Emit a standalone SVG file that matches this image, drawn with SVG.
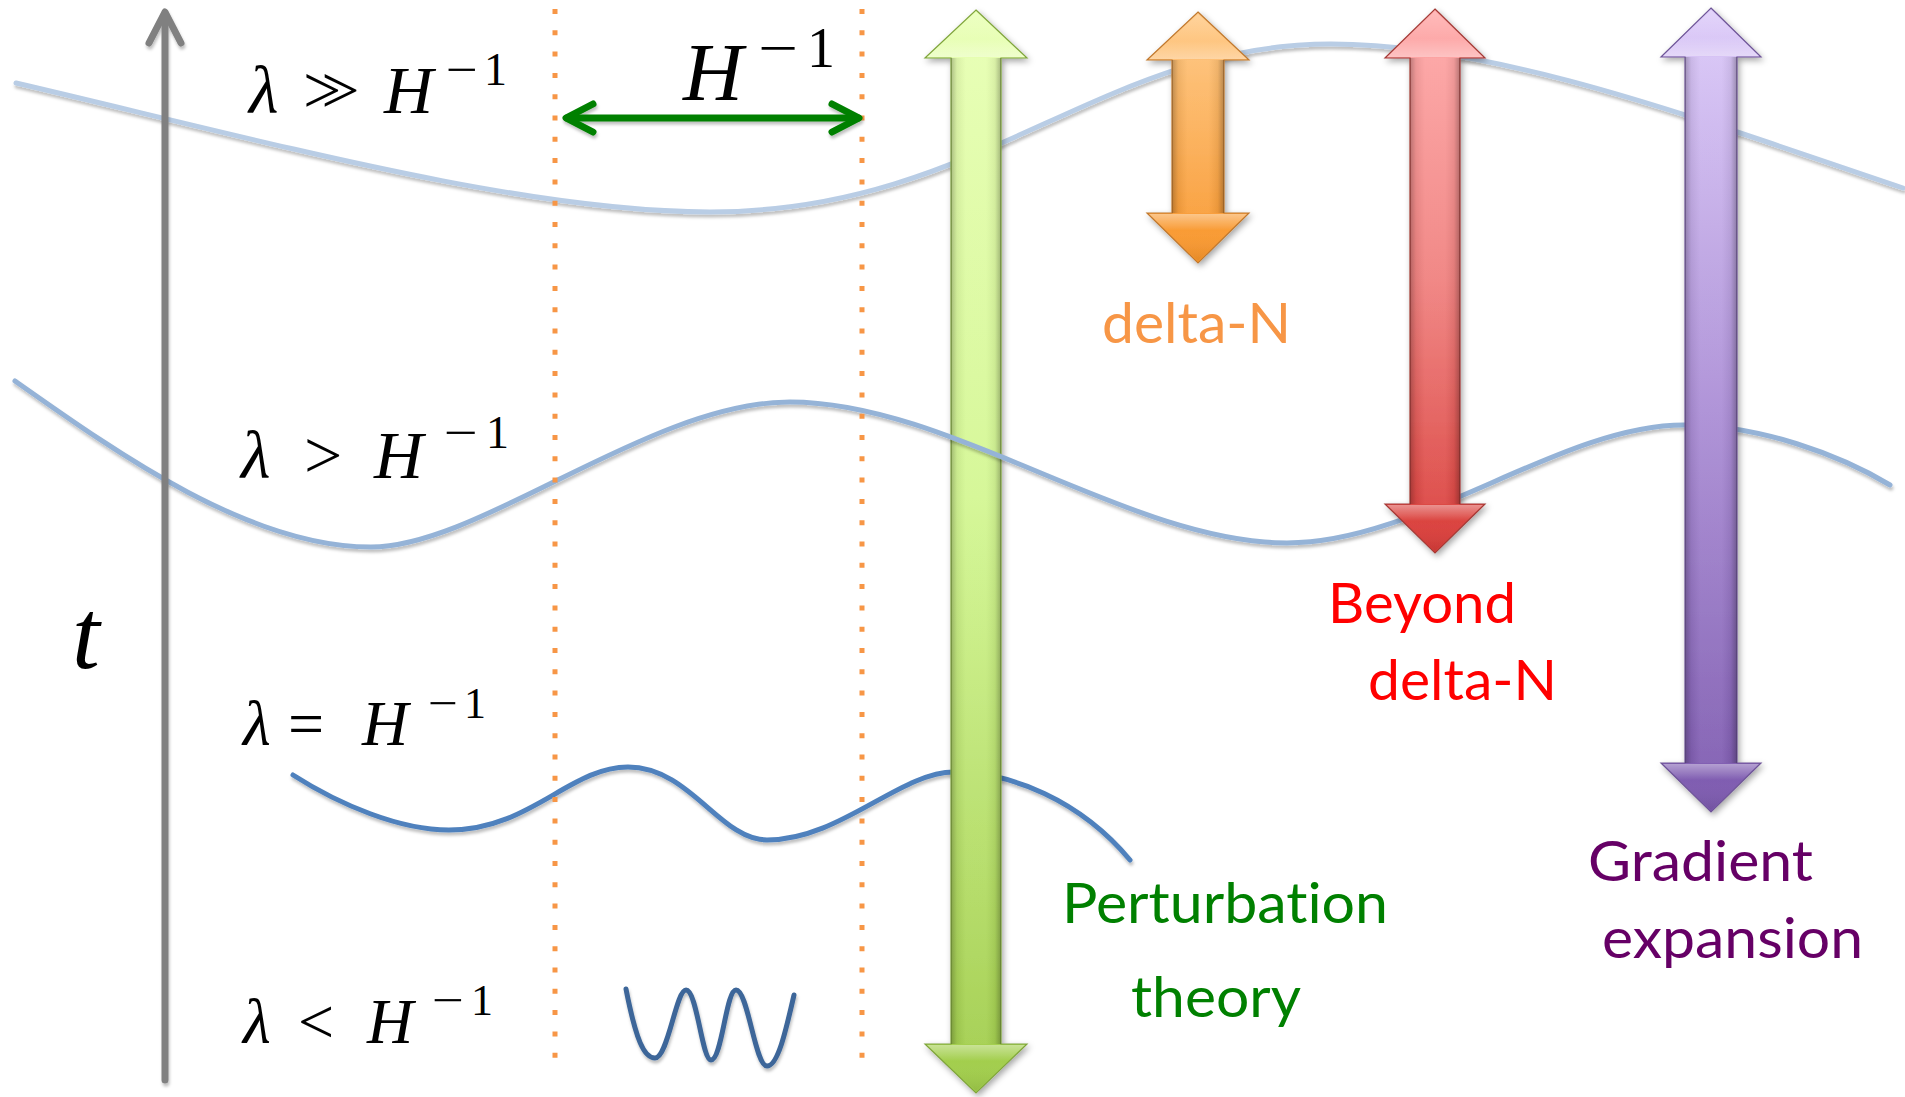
<svg xmlns="http://www.w3.org/2000/svg" width="1905" height="1097" viewBox="0 0 1905 1097">
<style>
.m{font-family:"Liberation Serif","DejaVu Serif",serif;fill:#000}
.i{font-style:italic}
.lbl{font-family:Lato,"Liberation Sans",sans-serif;font-size:56px;font-variant-ligatures:none}
.wave{fill:none;stroke-width:5;stroke-linecap:round}
.dot{stroke:#F79646;stroke-width:5;stroke-dasharray:5 16.3}
.ln{fill:none;stroke-linecap:round;stroke-linejoin:round}
.edge{stroke-width:1.2}
</style>
<defs>
<filter id="sh" x="-10%" y="-10%" width="120%" height="130%">
<feDropShadow dx="1" dy="3" stdDeviation="1.5" flood-color="#000" flood-opacity="0.25"/>
</filter>
<filter id="ash" x="-30%" y="-5%" width="160%" height="110%">
<feDropShadow dx="2" dy="3" stdDeviation="3" flood-color="#000" flood-opacity="0.35"/>
</filter>
<linearGradient id="gG" gradientUnits="userSpaceOnUse" x1="0" y1="10" x2="0" y2="1093">
<stop offset="0" stop-color="#E8FFB4"/><stop offset="0.45" stop-color="#D4F794"/><stop offset="1" stop-color="#A0CC4A"/>
</linearGradient>
<linearGradient id="gO" gradientUnits="userSpaceOnUse" x1="0" y1="12" x2="0" y2="263">
<stop offset="0" stop-color="#FFC985"/><stop offset="1" stop-color="#F8952A"/>
</linearGradient>
<linearGradient id="gR" gradientUnits="userSpaceOnUse" x1="0" y1="9" x2="0" y2="553">
<stop offset="0" stop-color="#FFAAAA"/><stop offset="0.5" stop-color="#F08280"/><stop offset="1" stop-color="#D83C38"/>
</linearGradient>
<linearGradient id="gP" gradientUnits="userSpaceOnUse" x1="0" y1="8" x2="0" y2="812">
<stop offset="0" stop-color="#DCCAF9"/><stop offset="0.5" stop-color="#AC8FD6"/><stop offset="1" stop-color="#7C59AE"/>
</linearGradient>
<linearGradient id="shaft" x1="0" y1="0" x2="1" y2="0">
<stop offset="0" stop-color="#000" stop-opacity="0.25"/><stop offset="0.12" stop-color="#000" stop-opacity="0.06"/>
<stop offset="0.3" stop-color="#fff" stop-opacity="0.05"/><stop offset="0.7" stop-color="#fff" stop-opacity="0.05"/>
<stop offset="0.88" stop-color="#000" stop-opacity="0.06"/><stop offset="1" stop-color="#000" stop-opacity="0.28"/>
</linearGradient>
<linearGradient id="hlDown" x1="0" y1="0" x2="0" y2="1">
<stop offset="0" stop-color="#fff" stop-opacity="0.4"/><stop offset="0.35" stop-color="#fff" stop-opacity="0"/><stop offset="1" stop-color="#000" stop-opacity="0.08"/>
</linearGradient>
<linearGradient id="hlUp" x1="0" y1="1" x2="0" y2="0">
<stop offset="0" stop-color="#fff" stop-opacity="0.35"/><stop offset="0.4" stop-color="#fff" stop-opacity="0.05"/><stop offset="1" stop-color="#fff" stop-opacity="0.2"/>
</linearGradient>
</defs>
<rect width="1905" height="1097" fill="#fff"/>

<g id="waves-back" filter="url(#sh)">
<path id="wave1" class="wave" stroke="#B9CDE5" d="M16,83 C260,140 520,212 710,212 C980,212 1100,44 1331,44 C1500,44 1700,120 1903,188"/>
<path id="wave3" class="wave" stroke="#4F81BD" d="M293,775 C340,805 400,830 449,830 C530,830 570,767 628,767 C690,767 720,840 767,840 C840,840 900,772 954,772 C1010,772 1080,800 1130,860"/>
<path id="wave4" class="wave" stroke="#3D6699" d="M626,989 C636,1040 644,1058 655,1058 C668,1058 676,990 686,990 C697,990 702,1060 711,1060 C722,1060 726,990 736,990 C748,990 755,1066 767,1066 C778,1066 786,1030 794,995"/>
</g>

<g id="node-perturbation">
<path d="M976,10 L1027,58 L1001,58 L1001,1044 L1027,1044 L976,1093 L925,1044 L951,1044 L951,58 L925,58 Z" fill="url(#gG)" stroke="#7FA43C" class="edge" filter="url(#ash)"/>
<rect x="951" y="58" width="50" height="986" fill="url(#shaft)"/>
<polygon points="976,12 1025,57 927,57" fill="url(#hlUp)"/>
<polygon points="927,1045 1025,1045 976,1091" fill="url(#hlDown)"/>
<text class="lbl" fill="#008000" x="1062" y="923" textLength="326" lengthAdjust="spacingAndGlyphs">Perturbation</text>
<text class="lbl" fill="#008000" x="1131" y="1017" textLength="170" lengthAdjust="spacingAndGlyphs">theory</text>
</g>

<g id="waves-front" filter="url(#sh)">
<path id="wave2" class="wave" stroke="#95B3D7" d="M15,381 C120,455 250,547 371,547 C480,547 650,402 790,402 C950,402 1130,543 1287,543 C1420,543 1560,425 1684,425 C1760,425 1840,455 1890,485"/>
</g>

<g id="node-deltaN">
<path d="M1198,12 L1249,60 L1224,60 L1224,213 L1249,213 L1198,263 L1147,213 L1172,213 L1172,60 L1147,60 Z" fill="url(#gO)" stroke="#C0782E" class="edge" filter="url(#ash)"/>
<rect x="1172" y="60" width="52" height="153" fill="url(#shaft)"/>
<polygon points="1198,14 1247,59 1149,59" fill="url(#hlUp)"/>
<polygon points="1149,214 1247,214 1198,261" fill="url(#hlDown)"/>
<text class="lbl" fill="#F79646" x="1102" y="343" textLength="189" lengthAdjust="spacingAndGlyphs">delta-N</text>
</g>

<g id="node-beyond">
<path d="M1435,9 L1485,58 L1460,58 L1460,504 L1485,504 L1435,553 L1385,504 L1410,504 L1410,58 L1385,58 Z" fill="url(#gR)" stroke="#A33A36" class="edge" filter="url(#ash)"/>
<rect x="1410" y="58" width="50" height="446" fill="url(#shaft)"/>
<polygon points="1435,11 1483,57 1387,57" fill="url(#hlUp)"/>
<polygon points="1387,505 1483,505 1435,551" fill="url(#hlDown)"/>
<text class="lbl" fill="#FF0000" x="1328" y="623" textLength="188" lengthAdjust="spacingAndGlyphs">Beyond</text>
<text class="lbl" fill="#FF0000" x="1368" y="700" textLength="189" lengthAdjust="spacingAndGlyphs">delta-N</text>
</g>

<g id="node-gradient">
<path d="M1711,8 L1761,57 L1737,57 L1737,763 L1761,763 L1711,812 L1661,763 L1685,763 L1685,57 L1661,57 Z" fill="url(#gP)" stroke="#6E5597" class="edge" filter="url(#ash)"/>
<rect x="1685" y="57" width="52" height="706" fill="url(#shaft)"/>
<polygon points="1711,10 1759,56 1663,56" fill="url(#hlUp)"/>
<polygon points="1663,764 1759,764 1711,810" fill="url(#hlDown)"/>
<text class="lbl" fill="#660066" x="1588" y="881" textLength="225" lengthAdjust="spacingAndGlyphs">Gradient</text>
<text class="lbl" fill="#660066" x="1602" y="958" textLength="261" lengthAdjust="spacingAndGlyphs">expansion</text>
</g>

<g id="horizon-lines">
<line class="dot" x1="555" y1="9" x2="555" y2="1064"/>
<line class="dot" x1="862" y1="9" x2="862" y2="1064"/>
</g>

<g id="connectors" filter="url(#sh)">
<g id="time-axis" class="ln" stroke="#808080" stroke-width="7">
<line x1="165" y1="1080" x2="165" y2="14"/>
<path d="M149,43 L165,12 L181,43"/>
</g>
<g id="hubble-arrow" class="ln" stroke="#008000" stroke-width="7">
<line x1="567" y1="118" x2="858" y2="118"/>
<path d="M593,104 L566,118 L593,132"/>
<path d="M832,104 L859,118 L832,132"/>
</g>
</g>

<g id="labels-math">
<text class="m" font-size="68" y="113"><tspan class="i" x="249">λ</tspan><tspan x="303" letter-spacing="-20">&gt;&gt;</tspan><tspan class="i" x="384">H</tspan></text>
<text class="m" font-size="46" y="85" x="446" textLength="32" lengthAdjust="spacingAndGlyphs">−</text>
<text class="m" font-size="46" y="85" x="484">1</text>

<text class="m" font-size="68" y="478"><tspan class="i" x="241">λ</tspan><tspan x="304">&gt;</tspan><tspan class="i" x="374">H</tspan></text>
<text class="m" font-size="46" y="448" x="444" textLength="34" lengthAdjust="spacingAndGlyphs">−</text>
<text class="m" font-size="46" y="448" x="486">1</text>

<text class="m" font-size="64" y="745"><tspan class="i" x="243">λ</tspan><tspan x="288">=</tspan><tspan class="i" x="362">H</tspan></text>
<text class="m" font-size="44" y="718" x="428" textLength="30" lengthAdjust="spacingAndGlyphs">−</text>
<text class="m" font-size="44" y="718" x="464">1</text>

<text class="m" font-size="64" y="1043"><tspan class="i" x="243">λ</tspan><tspan x="298">&lt;</tspan><tspan class="i" x="367">H</tspan></text>
<text class="m" font-size="44" y="1015" x="432" textLength="32" lengthAdjust="spacingAndGlyphs">−</text>
<text class="m" font-size="44" y="1015" x="471">1</text>

<text class="m i" font-size="100" x="72" y="668">t</text>

<text class="m i" font-size="83" x="683" y="100">H</text>
<text class="m" font-size="56" y="67" x="758" textLength="40" lengthAdjust="spacingAndGlyphs">−</text>
<text class="m" font-size="56" y="67" x="807">1</text>
</g>
</svg>
